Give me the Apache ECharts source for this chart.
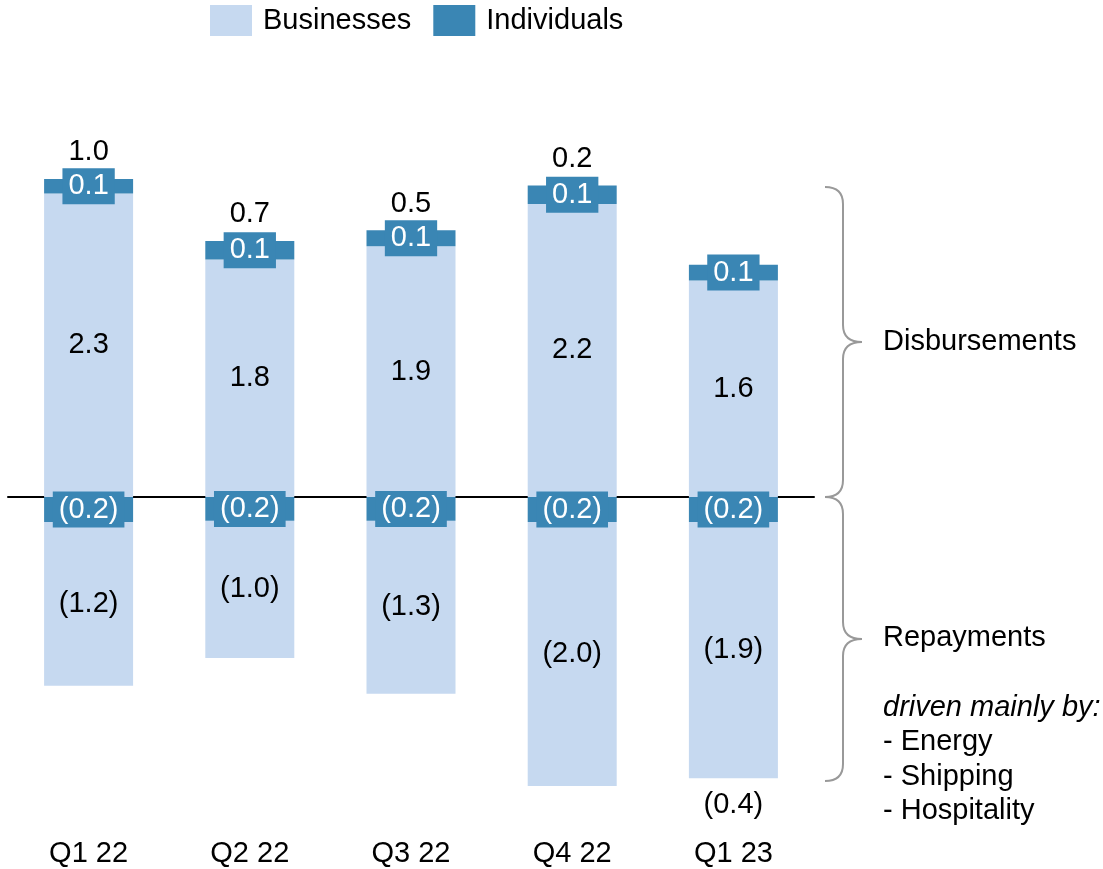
<!DOCTYPE html>
<html>
<head>
<meta charset="utf-8">
<title>Disbursements and repayments</title>
<script src="https://cdn.jsdelivr.net/npm/echarts@6/dist/echarts.min.js"></script>
<style>
  html, body { margin: 0; padding: 0; background: #fff; }
  #chart { width: 1103px; height: 869px; }
</style>
</head>
<body>
<div id="chart"></div>
<script>
  // quarters on the x axis
  const quarters = ['Q1 22', 'Q2 22', 'Q3 22', 'Q4 22', 'Q1 23']

  // disbursements (above zero) and repayments (below zero), estimated from the bars
  const businessDisbursed = [2.30, 1.80, 1.90, 2.22, 1.64]
  const individualDisbursed = [0.11, 0.14, 0.12, 0.14, 0.12]
  const individualRepaid = [-0.19, -0.18, -0.18, -0.19, -0.19]
  const businessRepaid = [-1.24, -1.04, -1.31, -2.00, -1.94]

  const lightBlue = '#c6d9f0'
  const darkBlue = '#3a86b4'
  const font = 'Liberation Sans, Arial, sans-serif'
  const size = 29

  function fmt(v) {
    let s = Math.abs(v).toFixed(1)
    return v < 0 ? '(' + s + ')' : s
  }

  // net flow per quarter, shown above (or below) each column
  let netData = quarters.map(function (q, i) {
    let top = businessDisbursed[i] + individualDisbursed[i]
    let bottom = businessRepaid[i] + individualRepaid[i]
    let net = top + bottom
    return {
      value: [q, net >= 0 ? top : bottom],
      net: net,
      label: {position: net >= 0 ? 'top' : 'bottom'}
    }
  })

  let blackLabel = {
    show: true,
    position: 'inside',
    color: '#000',
    fontSize: size,
    fontFamily: font,
    formatter: function (p) { return fmt(p.value) }
  }
  let boxLabel = {
    show: true,
    position: 'inside',
    color: '#fff',
    fontSize: size,
    fontFamily: font,
    lineHeight: 28,
    backgroundColor: darkBlue,
    padding: [4, 6],
    formatter: function (p) { return fmt(p.value) }
  }

  // curly brace made of two lines and four quadratic curves
  function brace(yTop, yBot) {
    let xTip = 825, xLine = 843, xMid = 862, r = 17
    let yMid = (yTop + yBot) / 2
    let style = {stroke: '#999', lineWidth: 2, fill: null}
    return [
      {type: 'bezierCurve', shape: {x1: xTip, y1: yTop, cpx1: xLine, cpy1: yTop, x2: xLine, y2: yTop + r}, style: style},
      {type: 'line', shape: {x1: xLine, y1: yTop + r, x2: xLine, y2: yMid - r}, style: style},
      {type: 'bezierCurve', shape: {x1: xLine, y1: yMid - r, cpx1: xLine, cpy1: yMid, x2: xMid, y2: yMid}, style: style},
      {type: 'bezierCurve', shape: {x1: xMid, y1: yMid, cpx1: xLine, cpy1: yMid, x2: xLine, y2: yMid + r}, style: style},
      {type: 'line', shape: {x1: xLine, y1: yMid + r, x2: xLine, y2: yBot - r}, style: style},
      {type: 'bezierCurve', shape: {x1: xLine, y1: yBot - r, cpx1: xLine, cpy1: yBot, x2: xTip, y2: yBot}, style: style}
    ]
  }

  function note(text, y, italic) {
    return {
      type: 'text',
      style: {
        text: text, x: 883, y: y,
        fill: '#000',
        font: (italic ? 'italic ' : '') + size + 'px ' + font,
        verticalAlign: 'middle'
      }
    }
  }

  let chart = echarts.init(document.getElementById('chart'))

  chart.setOption({
    animation: false,
    textStyle: {fontFamily: font},
    legend: {
      data: ['Businesses', 'Individuals'],
      left: 210,
      top: 5,
      padding: 0,
      icon: 'rect',
      itemWidth: 42,
      itemHeight: 31,
      itemGap: 22,
      textStyle: {fontSize: size, color: '#000', padding: [0, 0, 0, 6]}
    },
    grid: {left: 8, right: 289, top: 101, bottom: 42},
    xAxis: [
      {
        type: 'category',
        data: quarters,
        axisLine: {show: false, onZero: false},
        axisTick: {show: false},
        axisLabel: {fontSize: size, color: '#000', margin: 12}
      },
      {
        // zero line
        type: 'category',
        data: quarters,
        position: 'bottom',
        axisLine: {show: true, onZero: true, lineStyle: {color: '#000', width: 2}},
        axisTick: {show: false},
        axisLabel: {show: false}
      }
    ],
    yAxis: {
      type: 'value',
      min: -2.5,
      max: 3,
      show: false
    },
    series: [
      {
        name: 'Businesses',
        type: 'bar',
        stack: 'flow',
        barWidth: 89,
        itemStyle: {color: lightBlue},
        label: blackLabel,
        data: businessDisbursed
      },
      {
        name: 'Individuals',
        type: 'bar',
        stack: 'flow',
        z: 3,
        itemStyle: {color: darkBlue},
        label: boxLabel,
        data: individualDisbursed
      },
      {
        name: 'Individuals',
        type: 'bar',
        stack: 'flow',
        z: 3,
        itemStyle: {color: darkBlue},
        label: boxLabel,
        data: individualRepaid
      },
      {
        name: 'Businesses',
        type: 'bar',
        stack: 'flow',
        itemStyle: {color: lightBlue},
        label: blackLabel,
        data: businessRepaid
      },
      {
        name: 'Net',
        type: 'scatter',
        symbolSize: 0,
        silent: true,
        itemStyle: {opacity: 1},
        label: {
          show: true,
          distance: 12,
          color: '#000',
          fontSize: size,
          fontFamily: font,
          formatter: function (p) { return fmt(p.data.net) }
        },
        data: netData
      }
    ],
    graphic: brace(187, 497).concat(brace(497, 781)).concat([
      note('Disbursements', 342),
      note('Repayments', 638),
      note('driven mainly by:', 708, true),
      note('- Energy', 742),
      note('- Shipping', 777),
      note('- Hospitality', 811)
    ])
  })
</script>
</body>
</html>
